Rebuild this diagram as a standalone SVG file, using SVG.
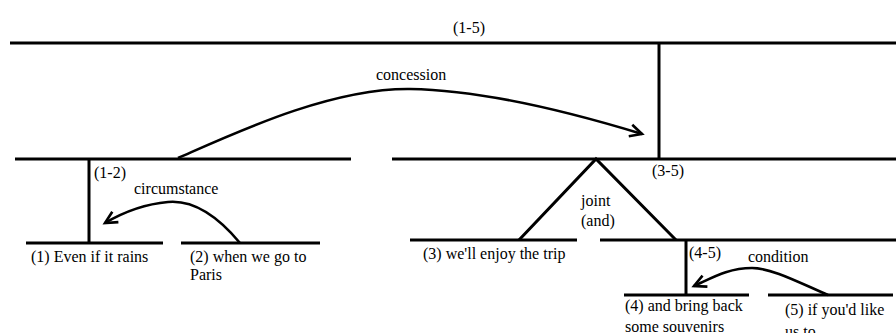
<svg xmlns="http://www.w3.org/2000/svg" width="896" height="333" viewBox="0 0 896 333" font-family="'Liberation Serif', 'Times New Roman', serif" font-size="16">
<style>
.ln{stroke:#000;stroke-width:3;fill:none}
.arc{stroke:#000;stroke-width:2.6;fill:none;marker-end:url(#ah)}
text{font-family:'Liberation Serif','Times New Roman',serif;font-size:16px;fill:#000}
</style>
<defs>
<marker id="ah" markerUnits="userSpaceOnUse" markerWidth="16" markerHeight="16" refX="13" refY="7" orient="auto" viewBox="0 0 16 14">
<path d="M1,1 L13,7 L1,13" stroke="#000" stroke-width="2.6" fill="none"/>
</marker>
</defs>
<rect width="896" height="333" fill="#fff"/>
<g id="n15">
<line class="ln" x1="10" y1="43" x2="896" y2="43"/>
<text x="453" y="33">(1-5)</text>
</g>
<g id="n12">
<line class="ln" x1="15" y1="159" x2="351" y2="159"/>
<text x="94" y="178">(1-2)</text>
</g>
<g id="n35">
<line class="ln" x1="392" y1="159" x2="896" y2="159"/>
<text x="652" y="176">(3-5)</text>
</g>
<g id="n1">
<line class="ln" x1="26" y1="243" x2="163" y2="243"/>
<text x="31" y="262">(1) Even if it rains</text>
</g>
<g id="n2">
<line class="ln" x1="181" y1="243" x2="320" y2="243"/>
<text x="190" y="262">(2) when we go to</text>
<text x="190" y="280">Paris</text>
</g>
<g id="n3">
<line class="ln" x1="410" y1="240" x2="577" y2="240"/>
<text x="423" y="259">(3) we'll enjoy the trip</text>
</g>
<g id="n45">
<line class="ln" x1="600" y1="240" x2="896" y2="240"/>
<text x="689" y="258">(4-5)</text>
</g>
<g id="n4">
<line class="ln" x1="624" y1="295" x2="749" y2="295"/>
<text x="625" y="311">(4) and bring back</text>
<text x="625" y="332">some souvenirs</text>
</g>
<g id="n5">
<line class="ln" x1="768" y1="295" x2="893" y2="295"/>
<text x="785" y="315">(5) if you'd like</text>
<text x="785" y="337">us to</text>
</g>
<g id="connectors">
<line class="ln" x1="659" y1="43" x2="659" y2="159"/>
<line class="ln" x1="89" y1="159" x2="89" y2="243"/>
<polyline class="ln" points="519,240 596,159 676,240"/>
<line class="ln" x1="686" y1="240" x2="686" y2="295"/>
<path class="arc" d="M178,158 C235,133 330,88 410,89 C480,90 570,112 642,134"/>
<path class="arc" d="M240,243 C215,213 190,200 168,202 C145,204 122,213 105,223"/>
<path class="arc" d="M828,295 C800,283 772,268 752,268 C728,268 712,278 694,286"/>
<text x="376" y="80">concession</text>
<text x="134" y="194">circumstance</text>
<text x="581" y="206">joint</text>
<text x="581" y="226">(and)</text>
<text x="748" y="262">condition</text>
</g>
</svg>
